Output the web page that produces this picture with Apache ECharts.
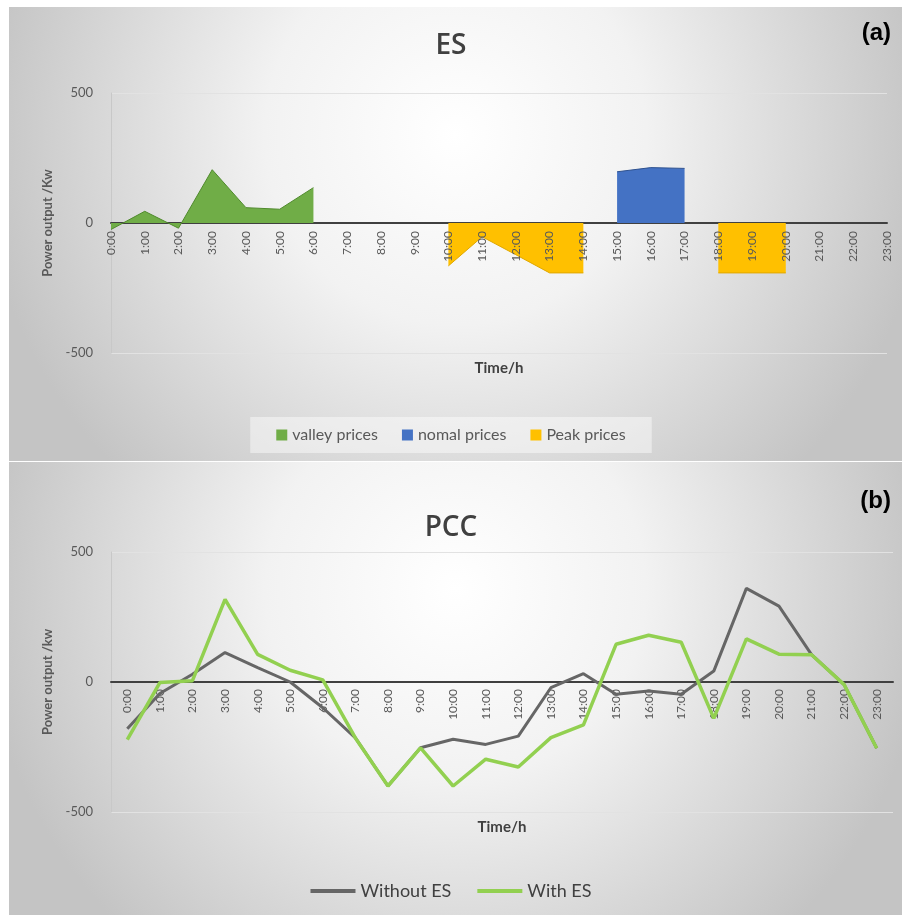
<!DOCTYPE html>
<html><head><meta charset="utf-8">
<script src="https://cdn.jsdelivr.net/npm/echarts@6/dist/echarts.min.js"></script>
<style>html,body{margin:0;padding:0;background:#fff}#c{width:902px;height:915px}</style>
</head><body><div id="c"></div>
<script>
const hours = ['0:00','1:00','2:00','3:00','4:00','5:00','6:00','7:00','8:00','9:00','10:00','11:00','12:00','13:00','14:00','15:00','16:00','17:00','18:00','19:00','20:00','21:00','22:00','23:00'];
const yTicks = [-500, 0, 500];
// (a) ES output by price period
const valleyPrices = [-25, 45, -20, 205, 59, 53, 136, null, null, null, null, null, null, null, null, null, null, null, null, null, null, null, null, null];
const normalPrices = [null, null, null, null, null, null, null, null, null, null, null, null, null, null, null, 197, 213, 210, null, null, null, null, null, null];
const peakPrices   = [null, null, null, null, null, null, null, null, null, null, -165, -53, -122, -192, -192, null, null, null, -192, -192, -192, null, null, null];
// (b) PCC
const withoutES = [-180, -44, 30, 113, 55, 0, -99, -215, -400, -253, -220, -240, -208, -22, 32, -47, -35, -47, 42, 360, 292, 105, -10, -255];
const withES    = [-222, -2, 5, 318, 106, 45, 8, -215, -400, -253, -400, -297, -327, -214, -165, 145, 180, 153, -140, 166, 107, 105, -10, -255];

const FONT = 'Lato, "Open Sans", sans-serif';
const TXT = '#595959';
const chart = echarts.init(document.getElementById('c'), null, {renderer: 'canvas'});

function bg(y, h) {
  return {
    type: 'rect', z: -100, silent: true,
    shape: {x: 9, y: y, width: 893, height: h},
    style: {fill: {type: 'radial', x: 0.5, y: 0.28, r: 1.05, colorStops: [
      {offset: 0, color: '#ffffff'}, {offset: 0.4, color: '#f2f2f2'}, {offset: 1, color: '#c4c4c4'}]}}
  };
}
// main category axis: zero line + axis name, no labels
function xMain(gi, gap) {
  return {
    gridIndex: gi, type: 'category', data: hours, boundaryGap: gap,
    axisLine: {onZero: true, lineStyle: {color: '#404040', width: 2}},
    axisTick: {show: false}, splitLine: {show: false},
    axisLabel: {show: false},
    name: 'Time/h', nameLocation: 'middle', nameGap: 8,
    nameTextStyle: {fontWeight: 'bold', fontSize: 15, color: '#404040', fontFamily: FONT}
  };
}
// label-only category axis whose grid bottom sits on the zero line
function xLabels(gi, gap, z) {
  return {
    gridIndex: gi, type: 'category', data: hours, boundaryGap: gap, z: z,
    axisLine: {show: false, onZero: false}, axisTick: {show: false}, splitLine: {show: false},
    axisLabel: {rotate: 90, interval: 0, color: TXT, fontSize: 12, fontFamily: FONT, margin: 8}
  };
}
function yMain(gi, name) {
  return {
    gridIndex: gi, type: 'value', min: yTicks[0], max: yTicks[yTicks.length - 1], interval: 500,
    axisLine: {show: true, lineStyle: {color: '#c8c8c8', width: 1}},
    axisTick: {show: false},
    splitLine: {show: true, lineStyle: {color: '#e2e2e2', width: 1}},
    axisLabel: {color: TXT, fontSize: 13, fontFamily: FONT, margin: 18},
    name: name, nameLocation: 'middle', nameGap: 56, nameRotate: 90,
    nameTextStyle: {fontWeight: 'bold', fontSize: 13, color: TXT, fontFamily: FONT}
  };
}
function yHidden(gi) {
  return {gridIndex: gi, type: 'value', min: 0, max: 1, show: false};
}
function area(name, data, fill, edge) {
  return {
    name: name, type: 'line', xAxisIndex: 0, yAxisIndex: 0, data: data,
    showSymbol: false, symbol: 'none', silent: true,
    lineStyle: {width: 1, color: edge}, itemStyle: {color: fill},
    areaStyle: {color: fill, opacity: 1}
  };
}

chart.setOption({
  animation: false,
  backgroundColor: '#ffffff',
  graphic: {elements: [bg(7, 454), bg(462, 453)]},
  title: [
    {text: 'ES', left: 'center', top: 27, textStyle: {fontFamily: '"Open Sans", sans-serif', fontWeight: 600, fontSize: 28, color: '#404040'}},
    {text: '(a)', right: 6, top: 16, textStyle: {fontFamily: '"Liberation Sans", Arial, sans-serif', fontWeight: 'bold', fontSize: 24, color: '#000'}},
    {text: 'PCC', left: 'center', top: 509, textStyle: {fontFamily: '"Open Sans", sans-serif', fontWeight: 600, fontSize: 28, color: '#404040'}},
    {text: '(b)', right: 6, top: 484, textStyle: {fontFamily: '"Liberation Sans", Arial, sans-serif', fontWeight: 'bold', fontSize: 24, color: '#000'}}
  ],
  legend: [
    {data: ['valley prices', 'nomal prices', 'Peak prices'], top: 417, left: 'center',
     icon: 'rect', itemWidth: 11, itemHeight: 11, itemGap: 24,
     textStyle: {color: TXT, fontSize: 16, fontFamily: FONT},
     backgroundColor: 'rgba(255,255,255,0.45)', padding: [10, 26]},
    {data: ['Without ES', 'With ES'], top: 877, left: 'center',
     icon: 'rect', itemWidth: 45, itemHeight: 4, itemGap: 26,
     textStyle: {color: '#404040', fontSize: 18, fontFamily: FONT}}
  ],
  grid: [
    {left: 111, right: 15, top: 93, height: 260},
    {left: 111, right: 15, top: 93, height: 130},
    {left: 111, right: 9, top: 552, height: 260},
    {left: 111, right: 9, top: 552, height: 129}
  ],
  xAxis: [xMain(0, false), xLabels(1, false, 20), xMain(2, true), xLabels(3, true, 0)],
  yAxis: [yMain(0, 'Power output /Kw'), yHidden(1), yMain(2, 'Power output /kw'), yHidden(3)],
  series: [
    area('valley prices', valleyPrices, '#70ad47', '#4f8a2c'),
    area('nomal prices', normalPrices, '#4472c4', '#2f528f'),
    area('Peak prices', peakPrices, '#ffc000', '#e0a800'),
    {name: 'Without ES', type: 'line', xAxisIndex: 2, yAxisIndex: 2, data: withoutES,
     showSymbol: false, symbol: 'none', lineStyle: {width: 3, color: '#666666'}, itemStyle: {color: '#666666'}},
    {name: 'With ES', type: 'line', xAxisIndex: 2, yAxisIndex: 2, data: withES,
     showSymbol: false, symbol: 'none', lineStyle: {width: 3.5, color: '#92d050'}, itemStyle: {color: '#92d050'}}
  ]
});
</script></body></html>
